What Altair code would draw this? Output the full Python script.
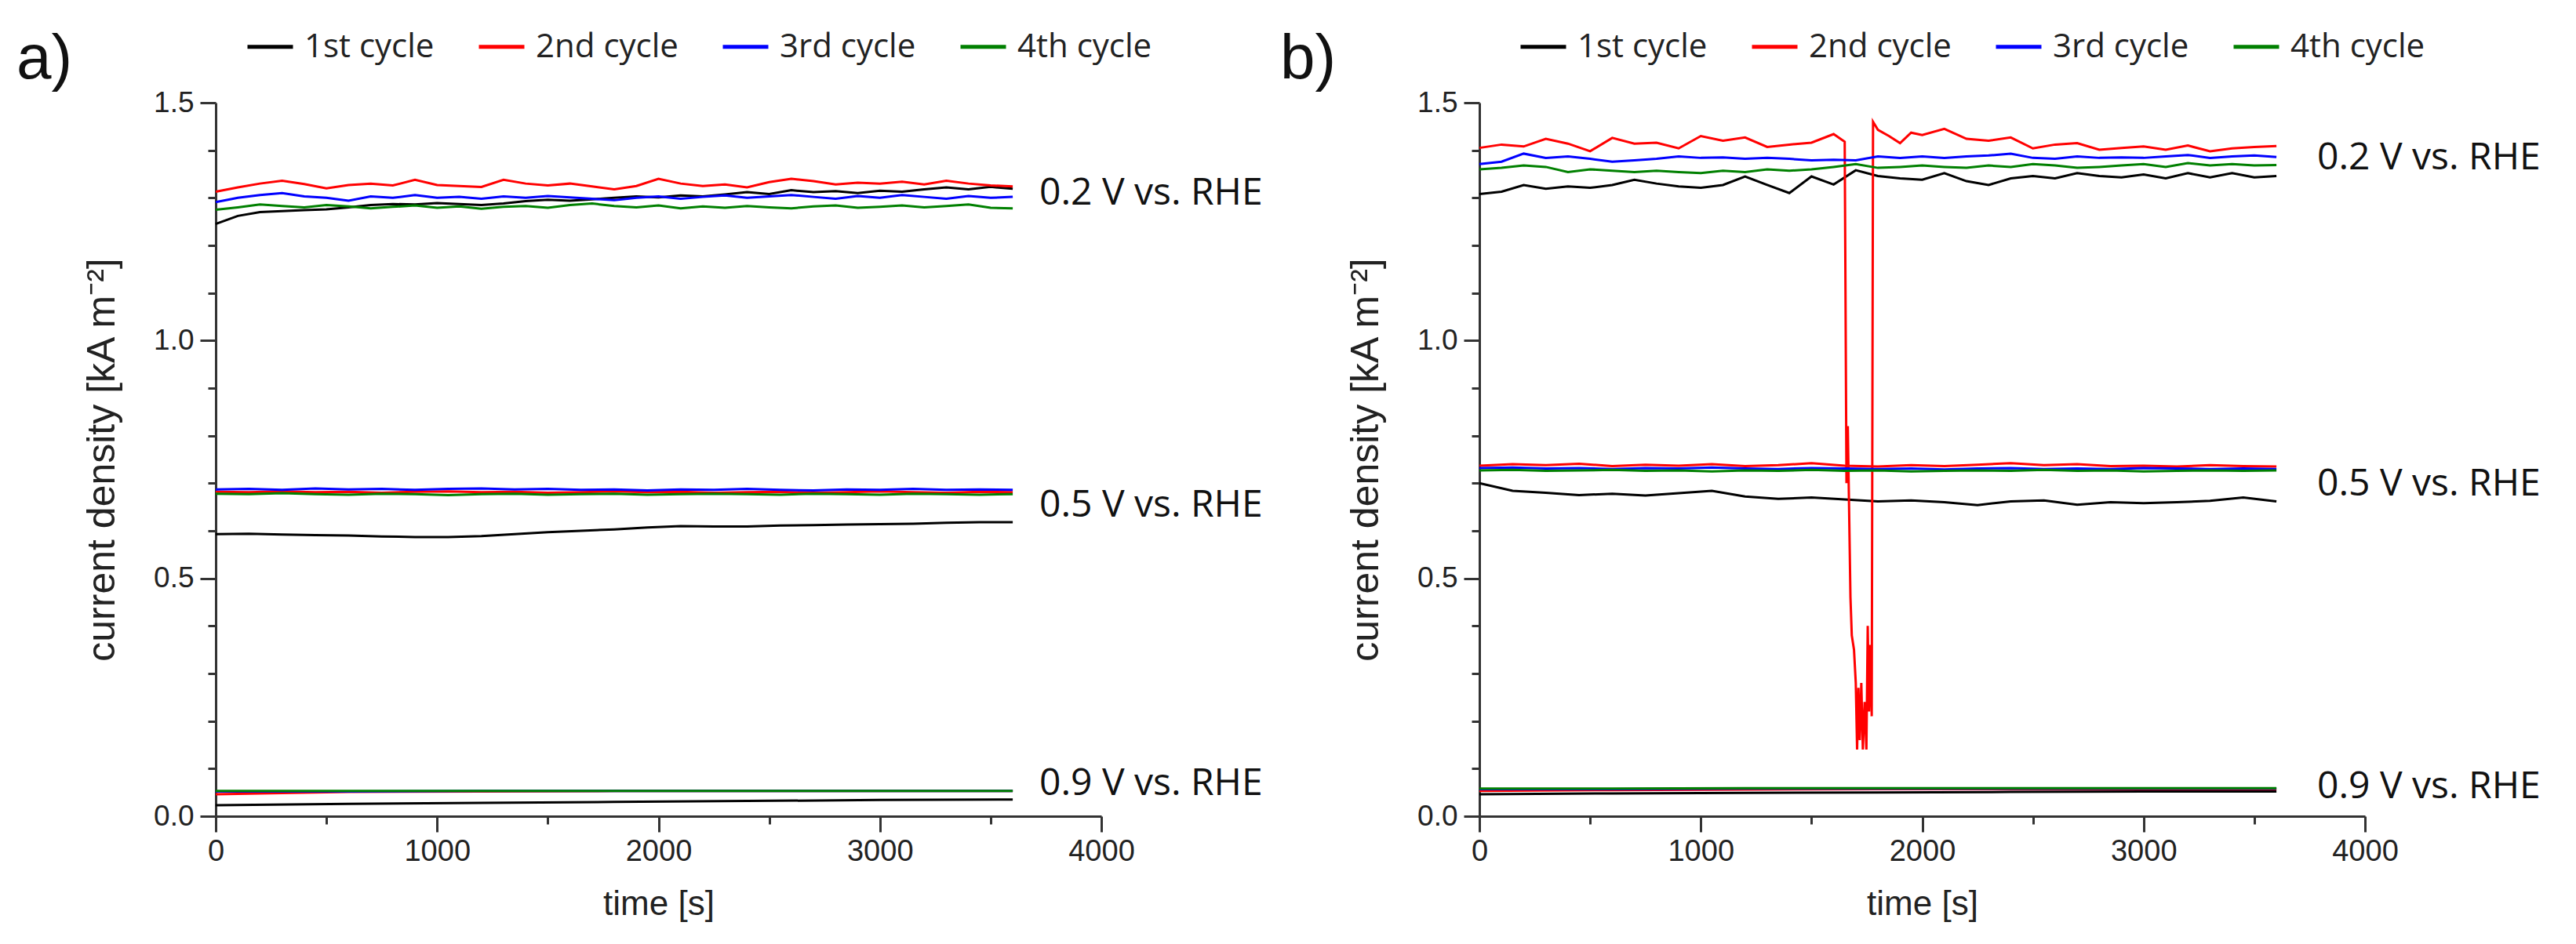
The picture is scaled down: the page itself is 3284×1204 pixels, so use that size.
import altair as alt
import pandas as pd


'''
Time grids (s) of the digitised traces
'''
t_100 = list(range(0, 3601, 100))
t_150 = list(range(0, 3601, 150))
t_600 = list(range(0, 3601, 600))

cycles = ['1st cycle', '2nd cycle', '3rd cycle', '4th cycle']
cycle_colors = ['#000000', '#ff0000', '#0000ff', '#008000']

'''
Panel a) - 0.2 V vs. RHE
'''
a_02_1st = [1.245, 1.262, 1.270, 1.272, 1.274, 1.276, 1.280, 1.285, 1.287, 1.286,
            1.289, 1.287, 1.285, 1.288, 1.293, 1.296, 1.294, 1.297, 1.300, 1.303,
            1.301, 1.305, 1.303, 1.307, 1.312, 1.308, 1.316, 1.312, 1.314, 1.310,
            1.315, 1.313, 1.318, 1.322, 1.318, 1.323, 1.319]
a_02_2nd = [1.313, 1.322, 1.330, 1.336, 1.329, 1.320, 1.327, 1.330, 1.326, 1.338,
            1.327, 1.325, 1.323, 1.338, 1.330, 1.326, 1.330, 1.324, 1.318, 1.325,
            1.340, 1.330, 1.325, 1.328, 1.322, 1.333, 1.340, 1.335, 1.328, 1.332,
            1.330, 1.334, 1.328, 1.336, 1.330, 1.326, 1.324]
a_02_3rd = [1.291, 1.300, 1.306, 1.310, 1.303, 1.300, 1.294, 1.303, 1.300, 1.306,
            1.300, 1.302, 1.298, 1.303, 1.300, 1.304, 1.301, 1.298, 1.295, 1.300,
            1.303, 1.298, 1.302, 1.305, 1.300, 1.303, 1.306, 1.302, 1.298, 1.304,
            1.300, 1.306, 1.302, 1.298, 1.304, 1.300, 1.302]
a_02_4th = [1.275, 1.280, 1.286, 1.283, 1.280, 1.285, 1.282, 1.278, 1.281, 1.284,
            1.279, 1.282, 1.277, 1.281, 1.283, 1.279, 1.285, 1.288, 1.283, 1.280,
            1.284, 1.278, 1.282, 1.279, 1.283, 1.280, 1.278, 1.282, 1.284, 1.279,
            1.281, 1.284, 1.280, 1.283, 1.286, 1.279, 1.278]

'''
Panel a) - 0.5 V vs. RHE
'''
a_05_1st = [0.593, 0.594, 0.592, 0.591, 0.590, 0.588, 0.587, 0.587, 0.589, 0.593,
            0.597, 0.600, 0.603, 0.607, 0.610, 0.609, 0.609, 0.611, 0.612, 0.613,
            0.614, 0.615, 0.617, 0.618, 0.618]
a_05_2nd = [0.682, 0.681, 0.683, 0.681, 0.682, 0.680, 0.682, 0.683, 0.681, 0.682,
            0.680, 0.681, 0.683, 0.681, 0.682, 0.680, 0.681, 0.682, 0.680, 0.681,
            0.683, 0.681, 0.680, 0.682, 0.681]
a_05_3rd = [0.687, 0.688, 0.686, 0.689, 0.687, 0.688, 0.686, 0.688, 0.689, 0.687,
            0.688, 0.686, 0.687, 0.685, 0.687, 0.686, 0.688, 0.686, 0.685, 0.687,
            0.686, 0.688, 0.686, 0.687, 0.686]
a_05_4th = [0.678, 0.677, 0.679, 0.677, 0.676, 0.678, 0.677, 0.675, 0.677, 0.678,
            0.676, 0.677, 0.678, 0.676, 0.677, 0.678, 0.677, 0.676, 0.678, 0.677,
            0.676, 0.678, 0.677, 0.676, 0.677]

'''
Panel a) - 0.9 V vs. RHE
'''
a_09_1st = [0.023, 0.026, 0.028, 0.030, 0.032, 0.034, 0.035]
a_09_2nd = [0.046, 0.051, 0.052, 0.053, 0.053, 0.053, 0.053]
a_09_3rd = [0.052, 0.052, 0.053, 0.053, 0.053, 0.053, 0.053]
a_09_4th = [0.053, 0.053, 0.053, 0.053, 0.053, 0.053, 0.053]

'''
Panel b) - 0.2 V vs. RHE (2nd cycle has the drop-out around 1700 s)
'''
b_02_1st = [1.308, 1.313, 1.327, 1.319, 1.324, 1.321, 1.327, 1.338, 1.330, 1.324,
            1.321, 1.327, 1.345, 1.327, 1.310, 1.345, 1.328, 1.358, 1.346, 1.341,
            1.338, 1.352, 1.335, 1.327, 1.341, 1.346, 1.341, 1.352, 1.346, 1.343,
            1.349, 1.341, 1.352, 1.343, 1.352, 1.343, 1.346]
b_02_2nd_t = [0, 100, 200, 300, 400, 500, 600, 700, 800, 900, 1000, 1100, 1200,
              1300, 1400, 1500, 1600, 1650, 1658, 1664, 1668, 1676, 1682, 1692,
              1700, 1706, 1712, 1718, 1725, 1732, 1740, 1748, 1754, 1760, 1766,
              1772, 1778, 1800, 1850, 1900, 1950, 2000, 2100, 2200, 2300, 2400,
              2500, 2600, 2700, 2800, 2900, 3000, 3100, 3200, 3300, 3400, 3500, 3600]
b_02_2nd = [1.405, 1.412, 1.408, 1.424, 1.414, 1.398, 1.426, 1.414, 1.416, 1.404,
            1.430, 1.420, 1.427, 1.407, 1.412, 1.416, 1.434, 1.418, 0.700, 0.820,
            0.700, 0.460, 0.380, 0.350, 0.280, 0.140, 0.270, 0.160, 0.280, 0.140,
            0.240, 0.140, 0.400, 0.220, 0.360, 0.210, 1.460, 1.443, 1.430, 1.415,
            1.437, 1.432, 1.445, 1.424, 1.420, 1.427, 1.404, 1.412, 1.415, 1.401,
            1.405, 1.408, 1.401, 1.410, 1.398, 1.404, 1.407, 1.409]
b_02_3rd = [1.371, 1.376, 1.393, 1.384, 1.387, 1.382, 1.376, 1.379, 1.382, 1.387,
            1.384, 1.385, 1.382, 1.384, 1.382, 1.379, 1.380, 1.379, 1.387, 1.384,
            1.387, 1.384, 1.387, 1.389, 1.393, 1.384, 1.382, 1.387, 1.384, 1.385,
            1.384, 1.387, 1.390, 1.384, 1.387, 1.389, 1.386]
b_02_4th = [1.360, 1.363, 1.368, 1.365, 1.354, 1.360, 1.357, 1.354, 1.357, 1.354,
            1.352, 1.357, 1.354, 1.360, 1.357, 1.360, 1.365, 1.371, 1.363, 1.365,
            1.368, 1.365, 1.363, 1.368, 1.365, 1.371, 1.368, 1.363, 1.365, 1.368,
            1.371, 1.365, 1.373, 1.368, 1.371, 1.368, 1.369]

'''
Panel b) - 0.5 V vs. RHE
'''
b_05_1st = [0.700, 0.684, 0.680, 0.675, 0.678, 0.674, 0.679, 0.684, 0.672, 0.667,
            0.670, 0.666, 0.662, 0.664, 0.660, 0.654, 0.662, 0.664, 0.655, 0.660,
            0.658, 0.660, 0.663, 0.670, 0.662]
b_05_2nd = [0.737, 0.740, 0.738, 0.741, 0.736, 0.739, 0.737, 0.740, 0.736, 0.738,
            0.742, 0.737, 0.735, 0.738, 0.736, 0.739, 0.742, 0.738, 0.740, 0.736,
            0.737, 0.735, 0.738, 0.736, 0.735]
b_05_3rd = [0.732, 0.733, 0.731, 0.732, 0.730, 0.732, 0.731, 0.733, 0.731, 0.730,
            0.732, 0.731, 0.730, 0.731, 0.729, 0.731, 0.732, 0.730, 0.731, 0.730,
            0.732, 0.731, 0.730, 0.731, 0.730]
b_05_4th = [0.727, 0.728, 0.726, 0.727, 0.728, 0.726, 0.727, 0.725, 0.727, 0.726,
            0.728, 0.726, 0.727, 0.725, 0.726, 0.727, 0.726, 0.728, 0.726, 0.727,
            0.725, 0.726, 0.727, 0.726, 0.727]

'''
Panel b) - 0.9 V vs. RHE
'''
b_09_1st = [0.046, 0.048, 0.049, 0.050, 0.051, 0.052, 0.052]
b_09_2nd = [0.053, 0.055, 0.056, 0.057, 0.057, 0.057, 0.057]
b_09_3rd = [0.057, 0.057, 0.058, 0.058, 0.058, 0.058, 0.058]
b_09_4th = [0.058, 0.058, 0.059, 0.059, 0.059, 0.059, 0.059]

'''
Potential annotations (text, time position, baseline value)
'''
label_text = ['0.2 V vs. RHE', '0.5 V vs. RHE', '0.9 V vs. RHE']
label_t_a = [3720, 3720, 3720]
label_j_a = [1.286, 0.630, 0.045]
label_t_b = [3784, 3784, 3784]
label_j_b = [1.360, 0.674, 0.038]


def traces(series):
  rows = []
  for potential, cycle, times, values in series:
    for t, j in zip(times, values):
      rows.append({'t': t, 'j': j, 'cycle': cycle, 'potential': potential})
  return pd.DataFrame(rows)


df_a = traces([
  ('0.2', '1st cycle', t_100, a_02_1st), ('0.5', '1st cycle', t_150, a_05_1st),
  ('0.9', '1st cycle', t_600, a_09_1st),
  ('0.2', '2nd cycle', t_100, a_02_2nd), ('0.5', '2nd cycle', t_150, a_05_2nd),
  ('0.9', '2nd cycle', t_600, a_09_2nd),
  ('0.2', '3rd cycle', t_100, a_02_3rd), ('0.5', '3rd cycle', t_150, a_05_3rd),
  ('0.9', '3rd cycle', t_600, a_09_3rd),
  ('0.2', '4th cycle', t_100, a_02_4th), ('0.5', '4th cycle', t_150, a_05_4th),
  ('0.9', '4th cycle', t_600, a_09_4th),
])

df_b = traces([
  ('0.2', '1st cycle', t_100, b_02_1st), ('0.5', '1st cycle', t_150, b_05_1st),
  ('0.9', '1st cycle', t_600, b_09_1st),
  ('0.2', '2nd cycle', b_02_2nd_t, b_02_2nd), ('0.5', '2nd cycle', t_150, b_05_2nd),
  ('0.9', '2nd cycle', t_600, b_09_2nd),
  ('0.2', '3rd cycle', t_100, b_02_3rd), ('0.5', '3rd cycle', t_150, b_05_3rd),
  ('0.9', '3rd cycle', t_600, b_09_3rd),
  ('0.2', '4th cycle', t_100, b_02_4th), ('0.5', '4th cycle', t_150, b_05_4th),
  ('0.9', '4th cycle', t_600, b_09_4th),
])

labels_a = pd.DataFrame({'t': label_t_a, 'j': label_j_a, 'label': label_text})
labels_b = pd.DataFrame({'t': label_t_b, 'j': label_j_b, 'label': label_text})

axis_color = '#333333'
major_y = 'abs(datum.value * 2 - round(datum.value * 2)) < 0.001'
major_x = 'datum.value % 1000 == 0'

x_enc = alt.X(
  't:Q',
  title='time [s]',
  scale=alt.Scale(domain=[0, 4000], nice=False),
  axis=alt.Axis(
    values=list(range(0, 4001, 500)),
    labelExpr=major_x + " ? format(datum.value, 'd') : ''",
    tickSize={'condition': {'test': major_x, 'value': 20}, 'value': 10},
    labelFlush=False, labelOverlap=False, labelPadding=6,
    labelFont='Liberation Sans', labelFontSize=38, labelColor='#222222',
    titleFont='Liberation Sans', titleFontSize=44, titleFontWeight='normal',
    titleColor='#222222', titlePadding=26,
    domainColor=axis_color, domainWidth=3, tickColor=axis_color, tickWidth=3,
    grid=False
  )
)

y_enc = alt.Y(
  'j:Q',
  title='current density [kA m⁻²]',
  scale=alt.Scale(domain=[0, 1.5], nice=False),
  axis=alt.Axis(
    values=[round(0.1 * i, 1) for i in range(16)],
    labelExpr=major_y + " ? format(datum.value, '.1f') : ''",
    tickSize={'condition': {'test': major_y, 'value': 20}, 'value': 10},
    labelOverlap=False, labelPadding=8,
    labelFont='Liberation Sans', labelFontSize=37, labelColor='#222222',
    titleFont='Liberation Sans', titleFontSize=50, titleFontWeight='normal',
    titleColor='#222222', titlePadding=40,
    domainColor=axis_color, domainWidth=3, tickColor=axis_color, tickWidth=3,
    grid=False
  )
)

'''
One panel: traces, potential annotations and its own legend
'''
def cycle_panel(df, labels, name, legend_x):
  lines = alt.Chart(df).mark_line(strokeWidth=3).encode(
    x=x_enc,
    y=y_enc,
    color=alt.Color(
      'cycle:N',
      title=None,
      scale=alt.Scale(domain=cycles, range=cycle_colors),
      legend=alt.Legend(
        orient='none', direction='horizontal',
        legendX=legend_x, legendY=-103, padding=0,
        symbolType='stroke', symbolSize=3364, symbolStrokeWidth=5,
        labelFont='Open Sans', labelFontSize=42, labelColor='#222222',
        labelLimit=400, labelOffset=12, columnPadding=46
      )
    ),
    detail='potential:N'
  )

  text = alt.Chart(labels).mark_text(
    align='left', baseline='alphabetic',
    font='Open Sans', fontSize=48, color='#111111'
  ).encode(
    x=x_enc,
    y=y_enc,
    text='label:N'
  )

  return alt.layer(lines, text).properties(
    width=1129,
    height=910,
    title=alt.Title(
      name, anchor='start', frame='group', orient='top',
      font='Liberation Sans', fontSize=80, fontWeight='normal',
      color='#111111', baseline='alphabetic', offset=0, dx=-254, dy=152
    )
  )


chart = alt.hconcat(
  cycle_panel(df_a, labels_a, 'a)', 38),
  cycle_panel(df_b, labels_b, 'b)', 50),
  spacing=482,
  bounds='flush'
).resolve_scale(
  color='independent'
).configure_view(
  stroke='transparent'
).properties(
  padding={'left': 12, 'top': 19, 'right': 10, 'bottom': 10},
  background='white'
)

chart.save("out.html", embed_options={"renderer": "svg", "actions": False})
